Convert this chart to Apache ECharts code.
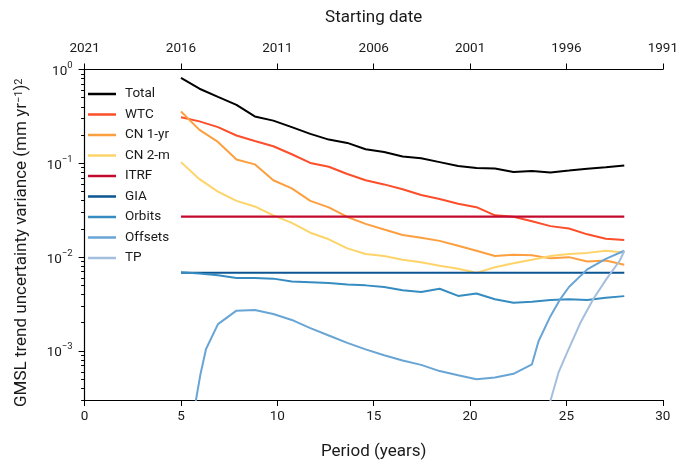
<!DOCTYPE html>
<html>
<head>
<meta charset="utf-8">
<script src="https://cdn.jsdelivr.net/npm/echarts@6/dist/echarts.min.js"></script>
<style>html,body{margin:0;padding:0;background:#fff}#c{width:681px;height:465px}</style>
</head>
<body>
<div id="c"></div>
<script>
// ---- data ----
const seriesNames = ['Total', 'WTC', 'CN 1-yr', 'CN 2-m', 'ITRF', 'GIA', 'Orbits', 'Offsets', 'TP'];
const periods = [5.00, 5.96, 6.92, 7.88, 8.83, 9.79, 10.75, 11.71, 12.67, 13.63, 14.58, 15.54, 16.50,
                 17.46, 18.42, 19.38, 20.33, 21.29, 22.25, 23.21, 24.17, 25.13, 26.08, 27.04, 28.00];
const total = [0.814, 0.624, 0.51, 0.42, 0.316, 0.285, 0.243, 0.206, 0.179, 0.165, 0.141, 0.132, 0.118,
               0.113, 0.103, 0.0936, 0.089, 0.088, 0.081, 0.083, 0.080, 0.0836, 0.0877, 0.091, 0.095];
const wtc = [0.309, 0.28, 0.243, 0.198, 0.173, 0.152, 0.125, 0.101, 0.092, 0.077, 0.066, 0.0596, 0.053,
             0.046, 0.0417, 0.037, 0.0341, 0.0279, 0.027, 0.0241, 0.0214, 0.0202, 0.0175, 0.0157, 0.0152];
const cn1yr = [0.357, 0.227, 0.169, 0.11, 0.0975, 0.066, 0.054, 0.0398, 0.0339, 0.0268, 0.0226, 0.0197, 0.0172,
               0.0161, 0.0149, 0.0132, 0.0117, 0.0103, 0.0106, 0.0105, 0.0097, 0.0100, 0.0090, 0.0092, 0.0083];
const cn2m = [0.103, 0.0678, 0.0499, 0.0398, 0.0347, 0.0279, 0.0232, 0.0182, 0.0155, 0.0124, 0.0108, 0.0103, 0.0094,
              0.0088, 0.0081, 0.0075, 0.0068, 0.0078, 0.0086, 0.0094, 0.0103, 0.0108, 0.0111, 0.0117, 0.0112];
const itrfPeriods = [5.00, 28.00];
const itrf = [0.0270, 0.0270];
const giaPeriods = [5.00, 28.00];
const gia = [0.0068, 0.0068];
const orbits = [0.0069, 0.0067, 0.0064, 0.0060, 0.0060, 0.0059, 0.0055, 0.0054, 0.0053, 0.0051, 0.0050, 0.0048, 0.00443,
                0.00425, 0.0046, 0.00386, 0.0041, 0.00356, 0.00326, 0.00334, 0.0035, 0.00356, 0.0035, 0.0037, 0.00384];
const offsetsPeriods = [5.74, 6.00, 6.30, 6.92, 7.88, 8.83, 9.79, 10.75, 11.71, 12.67, 13.63, 14.58, 15.54, 16.50,
                        17.46, 18.42, 19.38, 20.33, 21.29, 22.25, 23.21, 23.55, 24.17, 24.65, 25.13, 26.08, 27.04, 28.00];
const offsets = [2.7e-4, 5.5e-4, 1.05e-3, 1.93e-3, 2.69e-3, 2.73e-3, 2.48e-3, 2.14e-3, 1.75e-3, 1.46e-3, 1.22e-3, 1.04e-3,
                 9.0e-4, 7.9e-4, 7.1e-4, 6.1e-4, 5.5e-4, 5.0e-4, 5.2e-4, 5.7e-4, 7.2e-4, 1.27e-3, 2.35e-3, 3.5e-3,
                 4.8e-3, 7.4e-3, 9.6e-3, 1.17e-2];
const tpPeriods = [24.16, 24.59, 25.02, 25.71, 26.40, 27.08, 27.77, 28.00];
const tp = [2.9e-4, 5.9e-4, 9.5e-4, 1.97e-3, 3.6e-3, 5.87e-3, 9.2e-3, 1.17e-2];

const bottomTickLabels = ['0', '5', '10', '15', '20', '25', '30'];
const topTickLabels = ['2021', '2016', '2011', '2006', '2001', '1996', '1991'];
const yTickValues = [0.001, 0.01, 0.1, 1];
const yTickExps = ['\u22123', '\u22122', '\u22121', '0'];

// ---- styling ----
const colors = ['#000000', '#fc4e2a', '#fd9f3f', '#fed46a', '#c30a2e', '#0a5592', '#368cc0', '#68a5d5', '#a4bede'];
const FONT = 'Roboto';
const TXT = '#1a1a1a';

function pairs(xs, ys) { return xs.map((x, i) => [x, ys[i]]); }
const seriesData = [
  pairs(periods, total), pairs(periods, wtc), pairs(periods, cn1yr), pairs(periods, cn2m),
  pairs(itrfPeriods, itrf), pairs(giaPeriods, gia), pairs(periods, orbits),
  pairs(offsetsPeriods, offsets), pairs(tpPeriods, tp)
];

const Y_MIN = 3e-4, Y_MAX = 1;
const minorTicks = [];
for (let e = -4; e <= -1; e++) {
  for (let m = 2; m <= 9; m++) {
    const v = m * Math.pow(10, e);
    if (v >= Y_MIN && v <= Y_MAX) minorTicks.push(v);
  }
}

const chart = echarts.init(document.getElementById('c'), null, { renderer: 'canvas' });
chart.setOption({
  animation: false,
  backgroundColor: '#fff',
  textStyle: { fontFamily: FONT, color: TXT },
  grid: { left: 84.6, right: 13.8, top: 69.5, bottom: 60, containLabel: false },
  legend: {
    orient: 'vertical', left: 88, top: 87, padding: 0,
    data: seriesNames, icon: 'rect', itemWidth: 28, itemHeight: 2.5, itemGap: 6.5,
    textStyle: { fontFamily: FONT, fontSize: 13.5, color: TXT, lineHeight: 14, padding: [0, 0, 0, 4] },
    selectedMode: false
  },
  xAxis: [
    {
      type: 'value', position: 'bottom', min: 0, max: 30, interval: 5,
      name: 'Period (years)', nameLocation: 'middle', nameGap: 43,
      nameTextStyle: { fontFamily: FONT, fontSize: 17, color: TXT },
      axisLine: { show: true, onZero: false, lineStyle: { color: '#000', width: 1.2 } },
      axisTick: { show: true, inside: false, length: 6, lineStyle: { color: '#000', width: 1 } },
      axisLabel: { margin: 10, fontFamily: FONT, fontSize: 13.5, color: TXT,
                   formatter: v => bottomTickLabels[Math.round(v / 5)] },
      splitLine: { show: false }
    },
    {
      type: 'value', position: 'top', min: 0, max: 30, interval: 5,
      name: 'Starting date', nameLocation: 'middle', nameGap: 43,
      nameTextStyle: { fontFamily: FONT, fontSize: 17, color: TXT },
      axisLine: { show: true, onZero: false, lineStyle: { color: '#000', width: 1.2 } },
      axisTick: { show: true, inside: false, length: 6, lineStyle: { color: '#000', width: 1 } },
      axisLabel: { margin: 14, fontFamily: FONT, fontSize: 13.5, color: TXT,
                   formatter: v => topTickLabels[Math.round(v / 5)] },
      splitLine: { show: false }
    }
  ],
  yAxis: [
    {
      type: 'log', logBase: 10, position: 'left', min: Y_MIN, max: Y_MAX,
      name: 'GMSL trend uncertainty variance (mm yr{sup|\u22121}){sup|2}',
      nameLocation: 'middle', nameGap: 54,
      nameTextStyle: { fontFamily: FONT, fontSize: 17, color: TXT, padding: [0, 16, 0, 0],
        rich: { sup: { fontFamily: FONT, fontSize: 11, color: TXT, verticalAlign: 'top', lineHeight: 10 } } },
      axisLine: { show: true, onZero: false, lineStyle: { color: '#000', width: 1.2 } },
      axisTick: { show: true, inside: false, length: 6, customValues: yTickValues, lineStyle: { color: '#000', width: 1 } },
      axisLabel: {
        customValues: yTickValues, margin: 12, fontFamily: FONT, fontSize: 13.5, color: TXT,
        formatter: v => {
          const i = yTickValues.findIndex(t => Math.abs(t - v) / t < 1e-6);
          return i < 0 ? '' : '{b|10}{sup|' + yTickExps[i] + '}';
        },
        rich: {
          b: { fontFamily: FONT, fontSize: 13.5, color: TXT, lineHeight: 18, verticalAlign: 'bottom' },
          sup: { fontFamily: FONT, fontSize: 9.5, color: TXT, lineHeight: 10, verticalAlign: 'top' }
        }
      },
      splitLine: { show: false }
    },
    {
      type: 'log', logBase: 10, position: 'left', min: Y_MIN, max: Y_MAX,
      axisLine: { show: false },
      axisTick: { show: true, inside: false, length: 3.5, customValues: minorTicks, lineStyle: { color: '#000', width: 1 } },
      axisLabel: { show: false },
      splitLine: { show: false }
    }
  ],
  series: seriesNames.map((name, i) => ({
    name, type: 'line', xAxisIndex: 0, yAxisIndex: 0,
    data: seriesData[i], showSymbol: false, symbol: 'none', clip: true,
    lineStyle: { color: colors[i], width: i === 4 ? 2.4 : 2 },
    itemStyle: { color: colors[i] },
    emphasis: { disabled: true }, z: 2 + i
  }))
});
</script>
</body>
</html>
